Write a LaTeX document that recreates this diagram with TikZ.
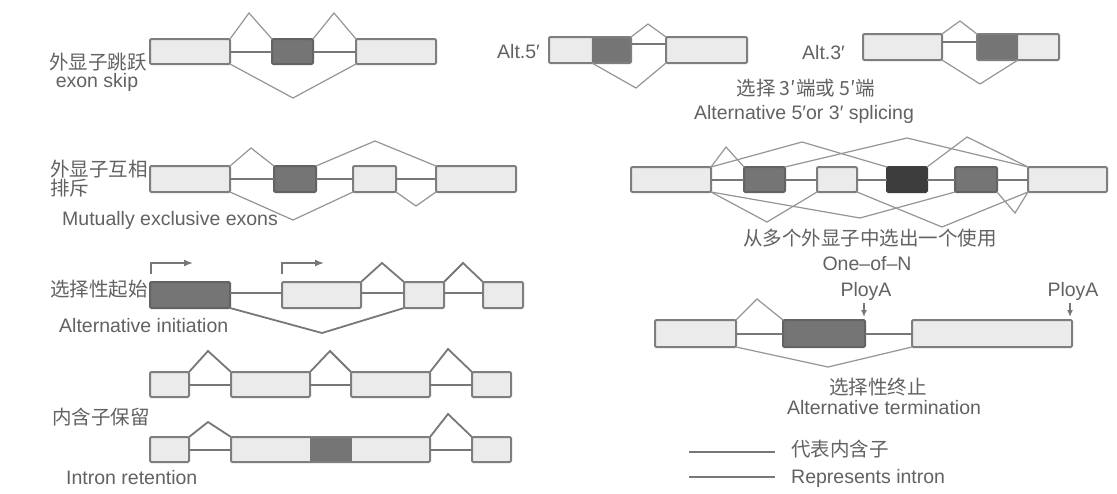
\documentclass[tikz,border=0pt]{standalone}
\usepackage{fontspec}
\setmainfont{Liberation Sans}
\newfontfamily\cjk{Noto Sans CJK SC}
\usetikzlibrary{calc,arrows.meta}

\definecolor{txt}{HTML}{626262}
\definecolor{edge}{HTML}{7E7E7E}
\definecolor{lite}{HTML}{EBEBEB}
\definecolor{dark}{HTML}{757575}
\definecolor{ink}{HTML}{3C3C3C}
\definecolor{intr}{HTML}{777777}
\definecolor{spl}{HTML}{959595}

\tikzset{
  exon/.style={draw=edge, line width=2pt, fill=lite, inner sep=0pt, outer sep=0pt, rounded corners=1.2pt},
  alt/.style={fill=dark, draw=dark!85!black},
  altblack/.style={fill=ink, draw=ink},
  % dark part of an exon, from fraction #1 to fraction #2 of its width
  part/.style 2 args={path picture={
      \fill[dark] ($(path picture bounding box.south west)!#1!(path picture bounding box.south east)$)
        rectangle ($(path picture bounding box.north west)!#2!(path picture bounding box.north east)$);}},
  intron/.style={draw=intr, line width=2pt},
  splice/.style={draw=spl, line width=1.2pt, line join=miter},
  splicebold/.style={draw=intr, line width=1.8pt, line join=miter},
  tss/.style={draw=intr, line width=1.6pt, -{Latex[length=9pt,width=7pt]}},
  pa/.style={draw=intr, line width=1.5pt, -{Latex[length=7pt,width=6pt]}},
  lbl/.style={text=txt, font=\fontsize{19.5}{22}\selectfont, inner sep=0pt, anchor=base},
  lblw/.style={lbl, anchor=base west},
  cj/.style={font=\fontsize{19.5}{22}\selectfont\cjk},
}

% exon box: name, x1, x2, y1, y2 (pixel-like units, y downward)
\newcommand\ex[6][]{\node[exon,#1,minimum width={(#4-#3)*1pt},minimum height={(#6-#5)*1pt}] (#2) at ({(#3+#4)/2},{(#5+#6)/2}) {};}

\begin{document}
\begin{tikzpicture}[x=1pt,y=-1pt]
\useasboundingbox (0,0) rectangle (1117,493);
\fill[white] (0,0) rectangle (1117,493);

% ---------- exon skip ----------
\ex{sk1}{150}{230}{39}{64}
\ex[alt]{sk2}{272}{313}{39}{64}
\ex{sk3}{356}{436}{39}{64}
\draw[intron] (sk1.east) -- (sk2.west);
\draw[intron] (sk2.east) -- (sk3.west);
\draw[splice] (sk1.north east) -- (249,13) -- (sk2.north west);
\draw[splice] (sk2.north east) -- (334,13) -- (sk3.north west);
\draw[splice] (sk1.south east) -- (293,98) -- (sk3.south west);
\node[lbl,cj] (skcn) at (98,69) {外显子跳跃};
\node[lbl] (sken) at (97,87) {exon skip};

% ---------- alternative 5' ----------
\ex[part={0.524}{1}]{a5a}{549}{631}{37}{63}
\ex{a5b}{666}{747}{37}{63}
\draw[intron] ([yshift=6pt]a5a.east) -- ([yshift=6pt]a5b.west);
\draw[splice] (a5a.north east) -- (648,24) -- (a5b.north west);
\draw[splice] ($(a5a.south west)!0.524!(a5a.south east)$) -- (636,88) -- (a5b.south west);
\node[lblw] (a5l) at (497,58) {Alt.5′};

% ---------- alternative 3' ----------
\ex{a3a}{863}{942}{34}{60}
\ex[part={0}{0.5}]{a3b}{977}{1059}{34}{60}
\draw[intron] ([yshift=5pt]a3a.east) -- ([yshift=5pt]a3b.west);
\draw[splice] (a3a.north east) -- (960,21) -- (a3b.north west);
\draw[splice] (a3a.south east) -- (980,84) -- ($(a3b.south west)!0.5!(a3b.south east)$);
\node[lblw] (a3l) at (802,59) {Alt.3′};
\node[lbl,cj] (sscn) at (806,95) {选择 3′端或 5′端};
\node[lbl] (ssen) at (804,119) {Alternative 5′or 3′ splicing};

% ---------- mutually exclusive exons ----------
\ex{me1}{150}{230}{166}{192}
\ex[alt]{me2}{274}{316}{166}{192}
\ex{me3}{353}{396}{166}{192}
\ex{me4}{436}{516}{166}{192}
\draw[intron] (me1.east) -- (me2.west);
\draw[intron] (me2.east) -- (me3.west);
\draw[intron] (me3.east) -- (me4.west);
\draw[splice] (me1.north east) -- (251,148) -- (me2.north west);
\draw[splice] (me2.north east) -- (375,141) -- (me4.north west);
\draw[splice] (me1.south east) -- (293,220) -- (me3.south west);
\draw[splice] (me3.south east) -- (416,206) -- (me4.south west);
\node[lblw,cj] (mecn1) at (50,176) {外显子互相};
\node[lblw,cj] (mecn2) at (50,195) {排斥};
\node[lblw] (meen) at (62,225) {Mutually exclusive exons};

% ---------- alternative initiation ----------
\ex[alt]{ai1}{150}{230}{282}{308}
\ex{ai2}{282}{361}{282}{308}
\ex{ai3}{404}{444}{282}{308}
\ex{ai4}{483}{523}{282}{308}
\draw[intron] ([yshift=2pt]ai1.east) -- ([yshift=2pt]ai2.west);
\draw[intron] ([yshift=2pt]ai2.east) -- ([yshift=2pt]ai3.west);
\draw[intron] ([yshift=2pt]ai3.east) -- ([yshift=2pt]ai4.west);
\draw[splicebold] (ai2.north east) -- (382,263) -- (ai3.north west);
\draw[splicebold] (ai3.north east) -- (463,263) -- (ai4.north west);
\draw[splicebold] (ai1.south east) -- (322,333) -- (ai3.south west);
\draw[tss] ([shift={(1,-8)}]ai1.north west) |- ++(42,-11);
\draw[tss] ([shift={(0,-8)}]ai2.north west) |- ++(42,-11);
\node[lblw,cj] (aicn) at (50,296) {选择性起始};
\node[lblw] (aien) at (59,332) {Alternative initiation};

% ---------- intron retention ----------
\ex{ir1}{150}{189}{372}{397}
\ex{ir2}{231}{310}{372}{397}
\ex{ir3}{351}{430}{372}{397}
\ex{ir4}{472}{511}{372}{397}
\draw[intron] (ir1.east) -- (ir2.west);
\draw[intron] (ir2.east) -- (ir3.west);
\draw[intron] (ir3.east) -- (ir4.west);
\draw[splicebold] (ir1.north east) -- (208,351) -- (ir2.north west);
\draw[splicebold] (ir2.north east) -- (330,351) -- (ir3.north west);
\draw[splicebold] (ir3.north east) -- (448,349) -- (ir4.north west);
\ex{ir5}{150}{189}{437}{462}
\ex[part={0.397}{0.608}]{ir6}{231}{430}{437}{462}
\ex{ir7}{472}{511}{437}{462}
\draw[intron] (ir5.east) -- (ir6.west);
\draw[intron] (ir6.east) -- (ir7.west);
\draw[splicebold] (ir5.north east) -- (208,422) -- (ir6.north west);
\draw[splicebold] (ir6.north east) -- (448,414) -- (ir7.north west);
\node[lblw,cj] (ircn) at (52,424) {内含子保留};
\node[lblw] (iren) at (66,484) {Intron retention};

% ---------- one of N ----------
\ex{on1}{631}{711}{167}{192}
\ex[alt]{on2}{744}{785}{167}{192}
\ex{on3}{817}{857}{167}{192}
\ex[altblack]{on4}{887}{927}{167}{192}
\ex[alt]{on5}{955}{997}{167}{192}
\ex{on6}{1028}{1107}{167}{192}
\foreach \a/\b in {on1/on2,on2/on3,on3/on4,on4/on5,on5/on6}
  \draw[intron] (\a.east) -- (\b.west);
\draw[splice] (on1.north east) -- (726,147) -- (on2.north west);
\draw[splice] (on1.north east) -- (802,142) -- (on4.north west);
\draw[splice] (on2.north east) -- (907,138) -- (on6.north west);
\draw[splice] (on4.north east) -- (967,137) -- (on6.north west);
\draw[splice] (on1.south east) -- (767,222) -- (on3.south west);
\draw[splice] (on1.south east) -- (860,218) -- (on5.south west);
\draw[splice] (on3.south east) -- (942,227) -- (on6.south west);
\draw[splice] (on5.south east) -- (1015,213) -- (on6.south west);
\node[lbl,cj] (oncn) at (870,245) {从多个外显子中选出一个使用};
\node[lbl] (onen) at (867,270) {One–of–N};

% ---------- alternative termination ----------
\node[lbl] (pa1) at (866,296) {PloyA};
\node[lbl] (pa2) at (1073,296) {PloyA};
\ex{at1}{655}{736}{320}{347}
\ex[alt]{at2}{783}{865}{320}{347}
\ex{at3}{912}{1072}{320}{347}
\draw[intron] (at1.east) -- (at2.west);
\draw[intron] (at2.east) -- (at3.west);
\draw[splice] (at1.north east) -- (757,299) -- (at2.north west);
\draw[splice] (at1.south east) -- (828,367) -- (at3.south west);
\draw[pa] ($(pa1.south)+(-2,3)$) -- ($(pa1.south |- at2.north)+(-2,-3)$);
\draw[pa] ($(pa2.south)+(-3,3)$) -- ($(pa2.south |- at3.north)+(-3,-3)$);
\node[lbl,cj] (atcn) at (878,394) {选择性终止};
\node[lbl] (aten) at (884,414) {Alternative termination};

% ---------- legend ----------
\coordinate (lg1a) at (689,452); \coordinate (lg1b) at (775,452);
\coordinate (lg2a) at (689,477); \coordinate (lg2b) at (775,477);
\draw[intron] (lg1a) -- (lg1b);
\draw[intron] (lg2a) -- (lg2b);
\node[lblw,cj] (lgcn) at (791,456) {代表内含子};
\node[lblw] (lgen) at (791,483) {Represents intron};
\end{tikzpicture}
\end{document}
